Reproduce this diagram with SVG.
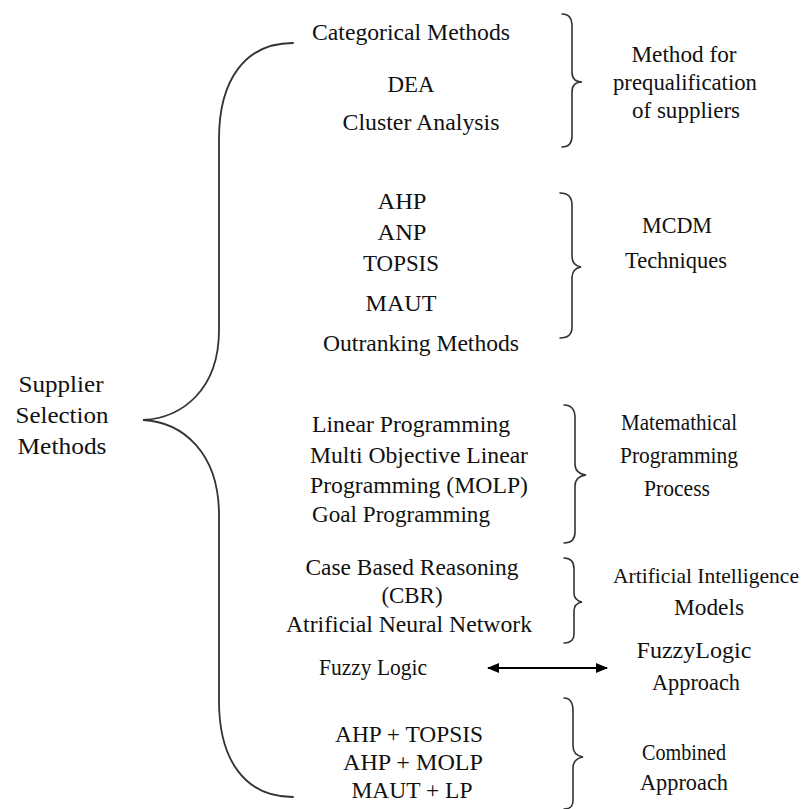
<svg xmlns="http://www.w3.org/2000/svg" width="811" height="809" viewBox="0 0 811 809">
  <defs>
    <style>
      text { font-family: "Liberation Serif", "Times New Roman", serif; font-size: 24px; fill: #111; text-anchor: middle; }
      .brace { fill: none; stroke: #333; stroke-width: 1.6; stroke-linecap: round; }
      .big { stroke-width: 1.8; }
      .arrow { stroke: #000; stroke-width: 2; }
      .tight { font-size: 22px; }
    </style>
    <marker id="head" viewBox="0 0 12 10" refX="11" refY="5" markerWidth="12" markerHeight="10" markerUnits="userSpaceOnUse" orient="auto-start-reverse">
      <path d="M0,0 L12,5 L0,10 Z" fill="#000"/>
    </marker>
  </defs>
  <rect width="811" height="809" fill="#fff"/>

  <!-- root label -->
  <g id="root">
    <text x="61" y="392" textLength="85" lengthAdjust="spacingAndGlyphs">Supplier</text>
    <text x="62" y="423" textLength="93" lengthAdjust="spacingAndGlyphs">Selection</text>
    <text x="62" y="454" textLength="89" lengthAdjust="spacingAndGlyphs">Methods</text>
  </g>

  <!-- braces and arrow -->
  <g id="connectors">
    <path class="brace big" d="M293,43 C245,43 219,80 219,139 L219,330 C219,390 182,418 143,420 C182,422 219,452 219,515 L219,701 C219,760 245,797 293,797"/>
    <path class="brace" d="M562,14 C569,14 572,18 572,26 L572,72 C572,78 575,82 582,82 C575,82 572,86 572,92 L572,136 C572,143 569,147 562,147"/>
    <path class="brace" d="M560,193 C568,193 572,197 572,205 L572,256 C572,262 575,266 581,267 C575,268 572,272 572,278 L572,327 C572,334 568,338 560,338"/>
    <path class="brace" d="M564,405 C572,405 575,410 575,418 L575,464 C575,470 579,474 586,475 C579,476 575,480 575,486 L575,532 C575,539 572,543 564,543"/>
    <path class="brace" d="M564,558 C571,558 574,562 574,569 L574,593 C574,598 577,601 582,602 C577,603 574,606 574,611 L574,634 C574,640 571,643 564,643"/>
    <path class="brace" d="M564,698 C571,698 573,703 573,711 L573,746 C573,752 577,756 583,757 C577,758 573,762 573,768 L573,800 C573,806 571,809 564,809"/>
    <line class="arrow" x1="488" y1="668" x2="607" y2="668" marker-start="url(#head)" marker-end="url(#head)"/>
  </g>

  <!-- prequalification group -->
  <g id="prequalification">
    <text x="411" y="40" textLength="198" lengthAdjust="spacingAndGlyphs">Categorical Methods</text>
    <text x="411" y="92" textLength="47" lengthAdjust="spacingAndGlyphs">DEA</text>
    <text x="421" y="130" textLength="157" lengthAdjust="spacingAndGlyphs">Cluster Analysis</text>
  </g>
  <g id="prequalification-label">
    <text x="684" y="62" textLength="105" lengthAdjust="spacingAndGlyphs">Method for</text>
    <text x="685" y="90" textLength="144" lengthAdjust="spacingAndGlyphs">prequalification</text>
    <text x="686" y="118" textLength="108" lengthAdjust="spacingAndGlyphs">of suppliers</text>
  </g>

  <!-- MCDM group -->
  <g id="mcdm">
    <text x="402" y="209" textLength="49" lengthAdjust="spacingAndGlyphs">AHP</text>
    <text x="402" y="240" textLength="49" lengthAdjust="spacingAndGlyphs">ANP</text>
    <text x="401" y="271" textLength="76" lengthAdjust="spacingAndGlyphs">TOPSIS</text>
    <text x="401" y="311" textLength="71" lengthAdjust="spacingAndGlyphs">MAUT</text>
    <text x="421" y="351" textLength="196" lengthAdjust="spacingAndGlyphs">Outranking Methods</text>
  </g>
  <g id="mcdm-label">
    <text x="677" y="233" textLength="70" lengthAdjust="spacingAndGlyphs">MCDM</text>
    <text x="676" y="268" textLength="102" lengthAdjust="spacingAndGlyphs">Techniques</text>
  </g>

  <!-- mathematical programming group -->
  <g id="math-programming">
    <text x="411" y="432" textLength="198" lengthAdjust="spacingAndGlyphs">Linear Programming</text>
    <text x="419" y="463" textLength="218" lengthAdjust="spacingAndGlyphs">Multi Objective Linear</text>
    <text x="419" y="493" textLength="218" lengthAdjust="spacingAndGlyphs">Programming (MOLP)</text>
    <text x="401" y="522" textLength="178" lengthAdjust="spacingAndGlyphs">Goal Programming</text>
  </g>
  <g id="math-programming-label">
    <text x="679" y="430" textLength="116" lengthAdjust="spacingAndGlyphs">Matemathical</text>
    <text x="679" y="463" textLength="118" lengthAdjust="spacingAndGlyphs">Programming</text>
    <text x="677" y="496" textLength="66" lengthAdjust="spacingAndGlyphs">Process</text>
  </g>

  <!-- artificial intelligence group -->
  <g id="ai">
    <text x="412" y="575" textLength="213" lengthAdjust="spacingAndGlyphs">Case Based Reasoning</text>
    <text x="412" y="603" textLength="61" lengthAdjust="spacingAndGlyphs">(CBR)</text>
    <text x="409" y="632" textLength="246" lengthAdjust="spacingAndGlyphs">Atrificial Neural Network</text>
  </g>
  <g id="ai-label">
    <text class="tight" x="706" y="583" textLength="186" lengthAdjust="spacingAndGlyphs">Artificial Intelligence</text>
    <text x="709" y="615" textLength="70" lengthAdjust="spacingAndGlyphs">Models</text>
  </g>

  <!-- fuzzy logic -->
  <g id="fuzzy">
    <text x="373" y="675" textLength="108" lengthAdjust="spacingAndGlyphs">Fuzzy Logic</text>
  </g>
  <g id="fuzzy-label">
    <text x="694" y="658" textLength="115" lengthAdjust="spacingAndGlyphs">FuzzyLogic</text>
    <text x="696" y="690" textLength="88" lengthAdjust="spacingAndGlyphs">Approach</text>
  </g>

  <!-- combined group -->
  <g id="combined">
    <text x="409" y="742" textLength="148" lengthAdjust="spacingAndGlyphs">AHP + TOPSIS</text>
    <text x="413" y="770" textLength="140" lengthAdjust="spacingAndGlyphs">AHP + MOLP</text>
    <text x="412" y="798" textLength="121" lengthAdjust="spacingAndGlyphs">MAUT + LP</text>
  </g>
  <g id="combined-label">
    <text x="684" y="760" textLength="84" lengthAdjust="spacingAndGlyphs">Combined</text>
    <text x="684" y="790" textLength="88" lengthAdjust="spacingAndGlyphs">Approach</text>
  </g>
</svg>
